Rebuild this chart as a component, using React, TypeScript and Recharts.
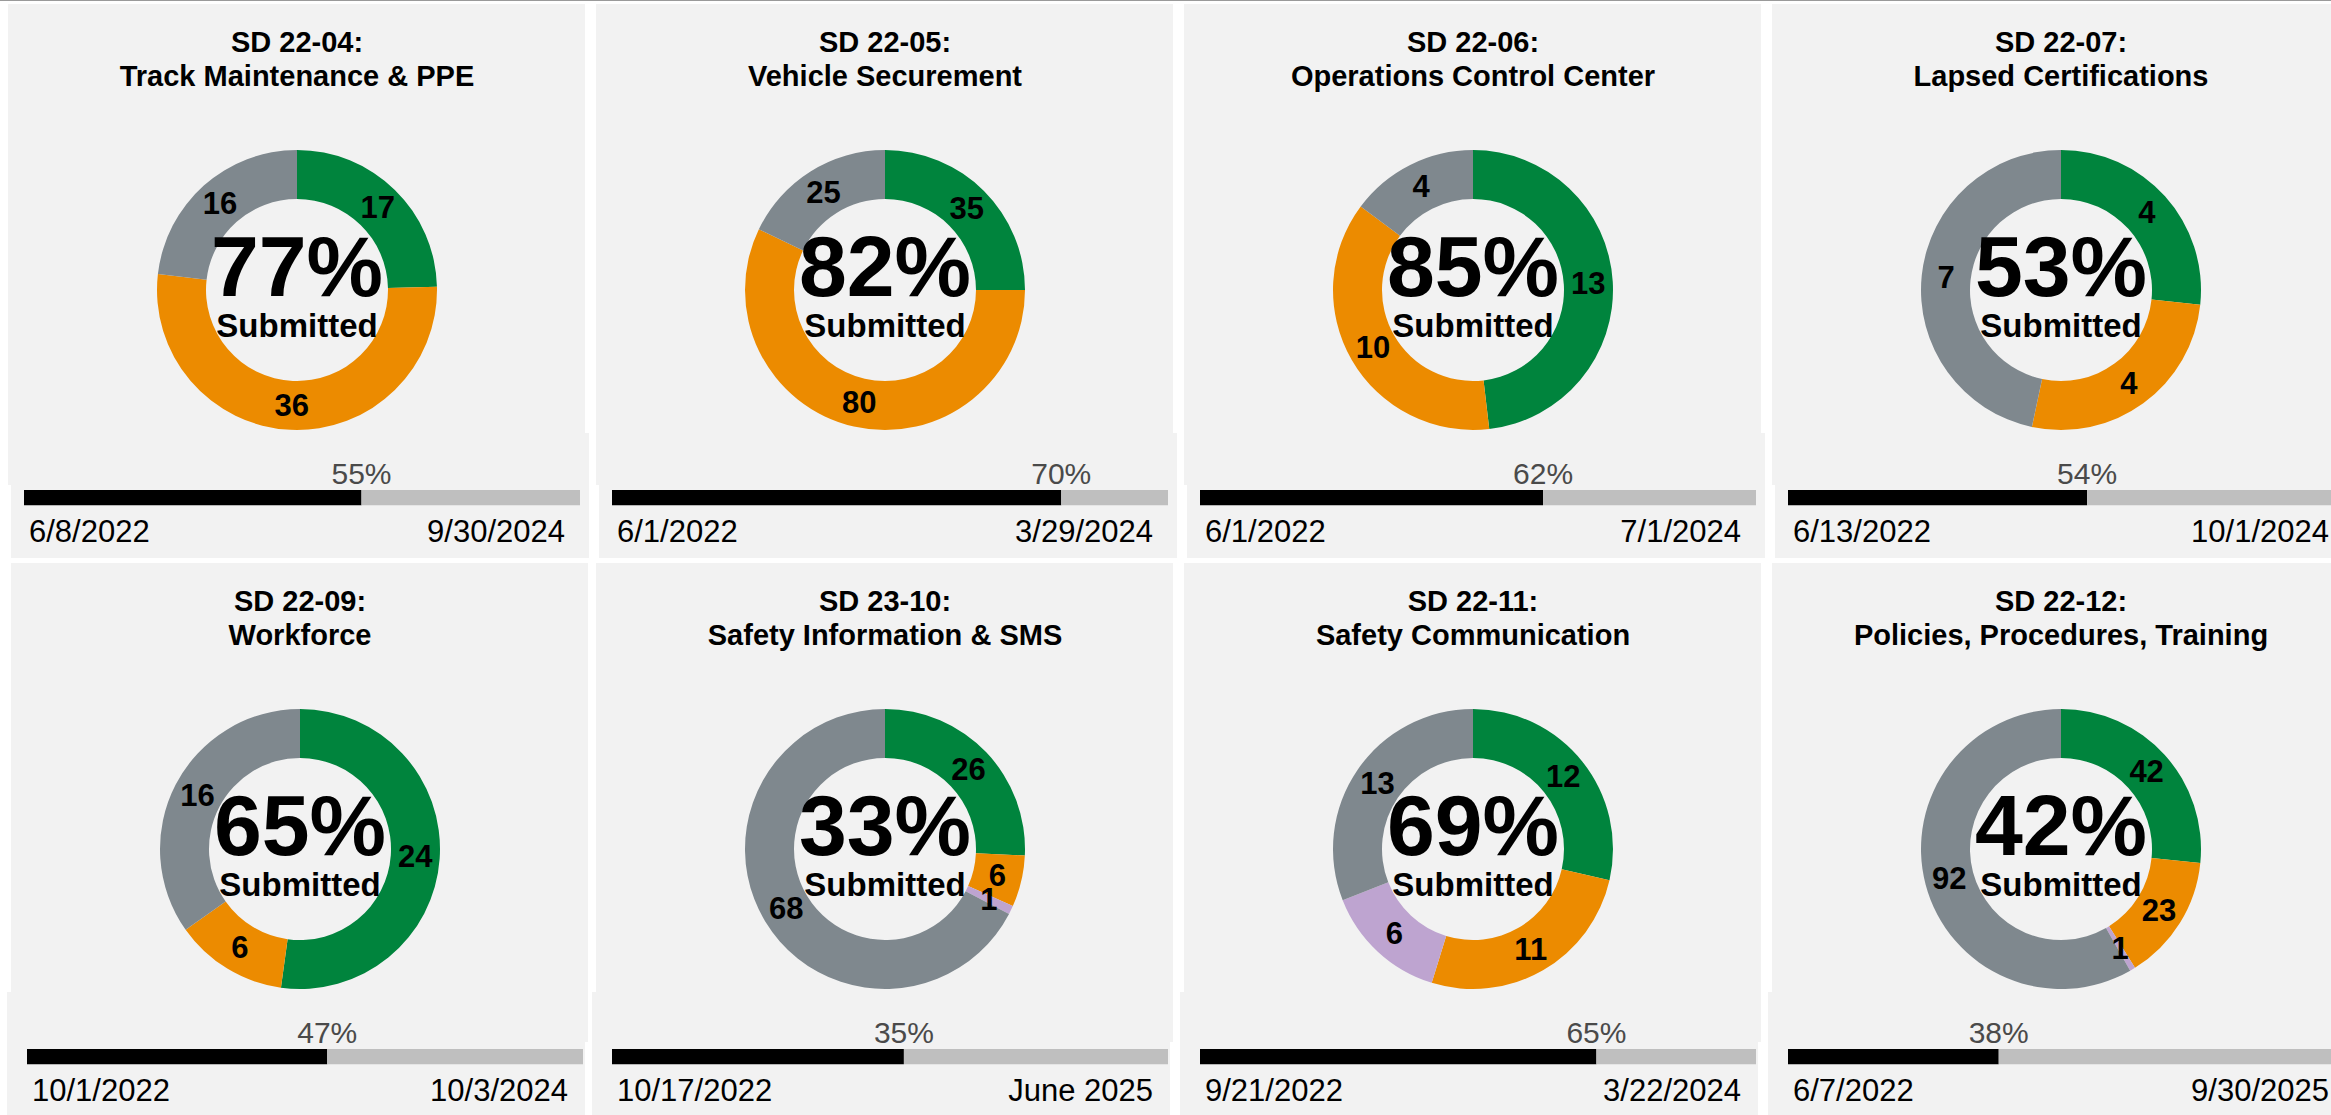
import React from "react";
import {
  PieChart,
  Pie,
  Cell,
  Label,
  BarChart,
  Bar,
  XAxis,
  YAxis,
  LabelList,
} from "recharts";

// --- data ---
const DIRECTIVES = [
  "SD 22-04:",
  "SD 22-05:",
  "SD 22-06:",
  "SD 22-07:",
  "SD 22-09:",
  "SD 23-10:",
  "SD 22-11:",
  "SD 22-12:",
];
const TOPICS = [
  "Track Maintenance & PPE",
  "Vehicle Securement",
  "Operations Control Center",
  "Lapsed Certifications",
  "Workforce",
  "Safety Information & SMS",
  "Safety Communication",
  "Policies, Procedures, Training",
];
const GREEN_COUNTS = [17, 35, 13, 4, 24, 26, 12, 42];
const ORANGE_COUNTS = [36, 80, 10, 4, 6, 6, 11, 23];
const PURPLE_COUNTS = [0, 0, 0, 0, 0, 1, 6, 1];
const GRAY_COUNTS = [16, 25, 4, 7, 16, 68, 13, 92];
const START_DATES = ["6/8/2022", "6/1/2022", "6/1/2022", "6/13/2022", "10/1/2022", "10/17/2022", "9/21/2022", "6/7/2022"];
const END_DATES = ["9/30/2024", "3/29/2024", "7/1/2024", "10/1/2024", "10/3/2024", "June 2025", "3/22/2024", "9/30/2025"];
const ELAPSED = [60.7, 80.8, 61.7, 53.8, 54, 52.5, 71.3, 37.9];
const PROGRESS_LABELS = ["55%", "70%", "62%", "54%", "47%", "35%", "65%", "38%"];

const SEGMENT_COUNTS = [GREEN_COUNTS, ORANGE_COUNTS, PURPLE_COUNTS, GRAY_COUNTS];
const SEGMENT_COLORS = ["#00843d", "#ec8b00", "#bea4d0", "#7f888e"];
const SUBMITTED = [true, true, true, false];

// --- layout ---
const FONT = "'Liberation Sans', Arial, Helvetica, sans-serif";
const BG = "#f2f2f2";
const PANEL_W = 577;
const COL_X = [8, 596, 1184, 1772];
const ROW_Y = [4, 563];
const DONUT_BG_H = [481, 479];
const BAR_BG_DX = [3, -4];
const CX = 289;
const CY = 286;
const BAR_W = 556;
const BAR_H = 17;
const BAR_TOP = 485;
const CHART_TOP = 36;

const RAD = Math.PI / 180;

function sliceLabel(props: any) {
  const { cx, cy, midAngle, innerRadius, outerRadius, value } = props;
  if (!value) return null;
  const r = (innerRadius + outerRadius) / 2;
  const x = cx + r * Math.cos(-midAngle * RAD);
  const y = cy + r * Math.sin(-midAngle * RAD);
  return (
    <text
      x={x}
      y={y}
      textAnchor="middle"
      dominantBaseline="central"
      fontFamily={FONT}
      fontWeight={700}
      fontSize={31}
      fill="#000"
    >
      {value}
    </text>
  );
}

function Panel({ i }: { i: number }) {
  const col = i % 4;
  const row = Math.floor(i / 4);
  const left = COL_X[col] + (row === 1 && col === 0 ? 3 : 0);
  const top = ROW_Y[row];

  const slices = SEGMENT_COUNTS.map((arr, k) => ({
    name: "s" + k,
    value: arr[i],
    color: SEGMENT_COLORS[k],
  })).filter((d) => d.value > 0);
  const total = SEGMENT_COUNTS.reduce((s, arr) => s + arr[i], 0);
  const submitted = SEGMENT_COUNTS.reduce((s, arr, k) => s + (SUBMITTED[k] ? arr[i] : 0), 0);
  const pct = Math.round((submitted / total) * 100) + "%";

  const progress = [
    {
      name: "time",
      elapsed: ELAPSED[i],
      remaining: 100 - ELAPSED[i],
      label: PROGRESS_LABELS[i],
    },
  ];

  return (
    <>
      {/* backgrounds */}
      <div
        style={{
          position: "absolute",
          left,
          top,
          width: PANEL_W,
          height: DONUT_BG_H[row],
          background: BG,
        }}
      />
      <div
        style={{
          position: "absolute",
          left: left + BAR_BG_DX[row],
          top: top + 429,
          width: PANEL_W + 1,
          height: 125,
          background: BG,
        }}
      />

      {/* title */}
      <svg
        style={{ position: "absolute", left, top, overflow: "visible" }}
        width={PANEL_W}
        height={100}
      >
        <text x={CX} y={48} textAnchor="middle" fontFamily={FONT} fontWeight={700} fontSize={29} fill="#000">
          {DIRECTIVES[i]}
        </text>
        <text x={CX} y={82} textAnchor="middle" fontFamily={FONT} fontWeight={700} fontSize={29} fill="#000">
          {TOPICS[i]}
        </text>
      </svg>

      {/* donut */}
      <div style={{ position: "absolute", left, top }}>
        <PieChart width={PANEL_W} height={DONUT_BG_H[row]} margin={{ top: 0, right: 0, bottom: 0, left: 0 }}>
          <Pie
            data={slices}
            dataKey="value"
            nameKey="name"
            cx={CX}
            cy={CY}
            innerRadius={91}
            outerRadius={140}
            startAngle={90}
            endAngle={-270}
            stroke="none"
            label={sliceLabel}
            labelLine={false}
            isAnimationActive={false}
          >
            {slices.map((d) => (
              <Cell key={d.name} fill={d.color} />
            ))}
            <Label
              position="center"
              content={(props: any) => {
                const vb = props.viewBox || {};
                const x = vb.cx ?? CX;
                const y = vb.cy ?? CY;
                return (
                  <g>
                    <text x={x} y={y + 6} textAnchor="middle" fontFamily={FONT} fontWeight={700} fontSize={86} fill="#000">
                      {pct}
                    </text>
                    <text x={x} y={y + 47} textAnchor="middle" fontFamily={FONT} fontWeight={700} fontSize={33} fill="#000">
                      Submitted
                    </text>
                  </g>
                );
              }}
            />
          </Pie>
        </PieChart>
      </div>

      {/* time progress bar */}
      <div style={{ position: "absolute", left: left + 16, top: top + BAR_TOP - CHART_TOP }}>
        <BarChart
          width={BAR_W}
          height={CHART_TOP + BAR_H + 50}
          data={progress}
          layout="vertical"
          margin={{ top: CHART_TOP, right: 0, bottom: 0, left: 0 }}
          barCategoryGap={0}
        >
          <XAxis
            type="number"
            domain={[0, 100]}
            ticks={[0, 100]}
            interval={0}
            height={50}
            axisLine={false}
            tickLine={false}
            tick={(props: any) => {
              const isStart = props.payload.value === 0;
              return (
                <text
                  x={isStart ? props.x + 5 : props.x - 15}
                  y={CHART_TOP + 53}
                  textAnchor={isStart ? "start" : "end"}
                  fontFamily={FONT}
                  fontSize={31}
                  fill="#000"
                >
                  {isStart ? START_DATES[i] : END_DATES[i]}
                </text>
              );
            }}
          />
          <YAxis type="category" dataKey="name" hide />
          <Bar dataKey="elapsed" stackId="t" fill="#000000" barSize={BAR_H} isAnimationActive={false}>
            <LabelList
              dataKey="label"
              content={(props: any) => (
                <text
                  x={props.x + props.width}
                  y={props.y - 6}
                  textAnchor="middle"
                  fontFamily={FONT}
                  fontSize={30}
                  fill="#4a4a4a"
                >
                  {props.value}
                </text>
              )}
            />
          </Bar>
          <Bar dataKey="remaining" stackId="t" fill="#bfbfbf" barSize={BAR_H} isAnimationActive={false} />
        </BarChart>
      </div>
    </>
  );
}

export default function App() {
  return (
    <div
      style={{
        position: "absolute",
        left: 0,
        top: 0,
        width: 2331,
        height: 1115,
        overflow: "hidden",
        background: "#ffffff",
      }}
    >
      <div style={{ position: "absolute", left: 0, top: 0, width: 2331, height: 1, background: "#9a9a9a" }} />
      {DIRECTIVES.map((_, i) => (
        <Panel key={i} i={i} />
      ))}
    </div>
  );
}
